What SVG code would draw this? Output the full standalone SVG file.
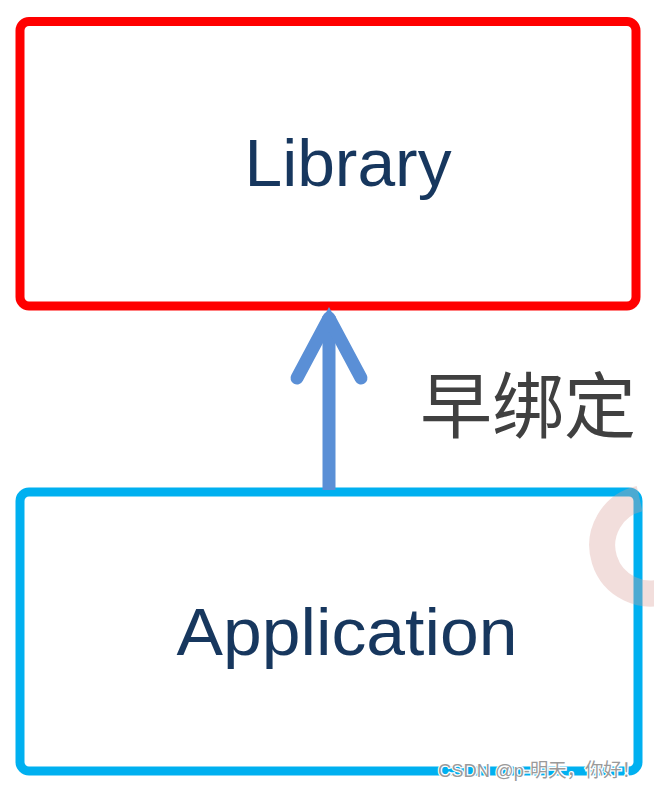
<svg xmlns="http://www.w3.org/2000/svg" width="654" height="789" viewBox="0 0 654 789">
<style>
.box{fill:#fff;stroke-width:9}
.lbl{font-family:"Segoe UI","Liberation Sans","Noto Sans",sans-serif;font-size:66px;fill:#17375e;text-anchor:middle}
.cn{font-family:"Noto Sans CJK SC",sans-serif;font-size:72px;fill:#404040}
.wm{font-family:"Liberation Sans","Noto Sans CJK SC",sans-serif;font-size:19px;fill:#9a9a9a;stroke:#fff;stroke-width:2.5;paint-order:stroke}
</style>
<rect width="654" height="789" fill="#fff"/>
<g id="library">
<rect class="box" x="20" y="21.5" width="616" height="284.5" rx="9" stroke="#ff0000"/>
<text class="lbl" x="348" y="186" textLength="207" lengthAdjust="spacingAndGlyphs">Library</text>
</g>
<g id="application">
<rect class="box" x="20" y="492" width="618" height="279" rx="9" stroke="#00b0f0"/>
<text class="lbl" x="347" y="655" textLength="341" lengthAdjust="spacingAndGlyphs">Application</text>
</g>
<g id="connectors" fill="none" stroke="#5a8fd6" stroke-width="13" stroke-linecap="round" stroke-linejoin="round">
<line x1="329" y1="490" x2="329" y2="316" stroke-linecap="butt"/>
<polyline points="297,378 329,318 361,378"/>
<polygon points="329,307 337,322 321,322" fill="#5a8fd6" stroke="none"/>
</g>
<text class="cn" x="420" y="432" textLength="216" lengthAdjust="spacingAndGlyphs">早绑定</text>
<path d="M 639.6 498.6 A 48 48 0 1 0 668 590" fill="none" stroke="#d9a09a" stroke-opacity="0.35" stroke-width="26"/>
<text class="wm" x="438" y="777" textLength="202" lengthAdjust="spacingAndGlyphs">CSDN @p-明天，你好！</text>
</svg>
